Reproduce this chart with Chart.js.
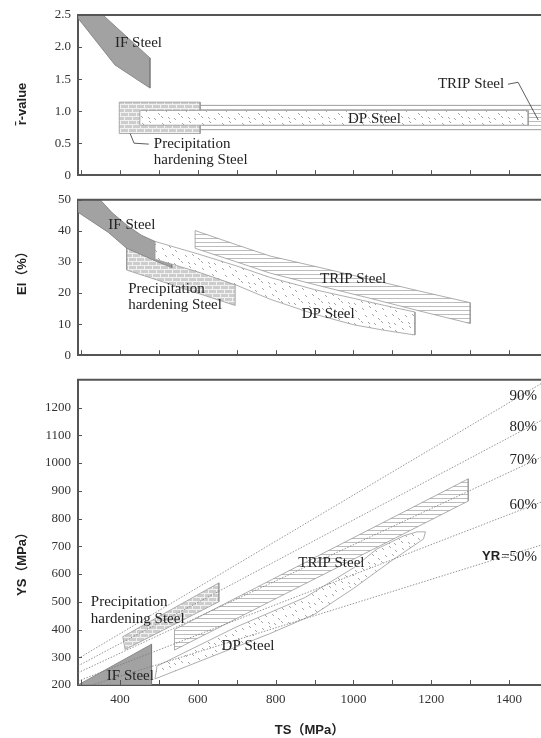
<!DOCTYPE html>
<html>
<head>
<meta charset="utf-8">
<script src="https://cdn.jsdelivr.net/npm/chart.js@4.4.0/dist/chart.umd.min.js"></script>
<style>
  html, body { margin: 0; padding: 0; background: #fff; overflow: hidden; }
  #wrap { position: relative; width: 541px; height: 738px; }
  #wrap canvas { position: absolute; left: 0; }
</style>
</head>
<body>
<div id="wrap">
  <canvas id="rChart" width="541" height="190" style="top:0"></canvas>
  <canvas id="elChart" width="541" height="185" style="top:185px"></canvas>
  <canvas id="ysChart" width="541" height="373" style="top:365px"></canvas>
</div>
<script>
// shared TS axis
const tsMin = 292, tsMax = 1482;
const tsTicks = [300, 400, 500, 600, 700, 800, 900, 1000, 1100, 1200, 1300, 1400];

// r-value vs TS  [TS, r]
const rTicks = [0, 0.5, 1, 1.5, 2, 2.5];
const rIF = [[292, 2.5], [356, 2.5], [477, 1.83], [477, 1.36], [387, 1.72], [292, 2.45]];
const rPH = [[398, 1.14], [606, 1.14], [606, 0.65], [398, 0.65]];
const rTRIP = [[578, 1.09], [1500, 1.09], [1500, 0.71], [578, 0.71]];
const rDP = [[451, 1.01], [1449, 1.01], [1449, 0.78], [451, 0.78]];
const rLeadPH = [[426, 0.65], [436, 0.5], [474, 0.485]];
const rLeadTRIP = [[1397, 1.42], [1423, 1.45], [1475, 0.86]];
const rNotes = [
  ['IF Steel', 387, 2.06],
  ['Precipitation', 487, 0.485],
  ['hardening Steel', 487, 0.24],
  ['DP Steel', 986, 0.88],
  ['TRIP Steel', 1217, 1.42]
];

// elongation vs TS  [TS, El %]
const elTicks = [0, 10, 20, 30, 40, 50];
const elIF = [[292, 50], [349, 50], [380, 45.8], [420, 41.6], [455, 38.6], [490, 36.6], [533, 33],
  [533, 28.2], [490, 30.4], [417, 34.4], [370, 39.5], [292, 46]];
const elPH = [[417, 35.2], [417, 27.4], [696, 16], [696, 22.6], [600, 27.2], [533, 29.6], [490, 31.5]];
const elTRIP = [[593, 40.1], [700, 35.5], [786, 31.9], [914, 28.2], [1043, 24.4], [1171, 20.6], [1300, 16.9],
  [1300, 10.2], [1171, 14.2], [1043, 18.3], [914, 22.3], [786, 26.4], [700, 30], [593, 34.4]];
const elDP = [[490, 36.6], [600, 32.6], [700, 28.7], [786, 25], [900, 21.1], [1000, 18.3], [1080, 16], [1158, 13.9],
  [1158, 6.5], [1080, 8], [1000, 9.8], [900, 13.2], [786, 18], [700, 22.5], [600, 26.8], [490, 30.9]];
const elNotes = [
  ['IF Steel', 370, 42],
  ['Precipitation', 421, 21.4],
  ['hardening Steel', 421, 16.2],
  ['TRIP Steel', 914, 24.4],
  ['DP Steel', 867, 13.3]
];

// yield strength vs TS  [TS, YS MPa]
const ysTicks = [200, 300, 400, 500, 600, 700, 800, 900, 1000, 1100, 1200];
const ysIF = [[292, 200], [481, 347], [481, 200]];
const ysPH = [[407, 374], [654, 568], [654, 500], [413, 328]];
const ysTRIP = [[540, 400], [1295, 943], [1295, 863], [540, 326]];
const ysDP = [[490, 222], [495, 268], [700, 410], [875, 515], [1000, 622], [1060, 690], [1130, 738], [1163, 752],
  [1185, 752], [1180, 726], [1100, 650], [1000, 548], [900, 455], [785, 385], [600, 283]];
const yr90 = [[292, 295], [1482, 1286]];
const yr80 = [[292, 269], [1482, 1153]];
const yr70 = [[292, 244], [1482, 1020]];
const yr60 = [[292, 214], [1482, 859]];
const yr50 = [[328, 200], [1482, 704]];
const ysNotes = [
  ['Precipitation', 325, 500],
  ['hardening Steel', 325, 437],
  ['IF Steel', 366, 232],
  ['DP Steel', 661, 340],
  ['TRIP Steel', 858, 638],
  ['90%', 1472, 1240, 'right'],
  ['80%', 1472, 1129, 'right'],
  ['70%', 1472, 1012, 'right'],
  ['60%', 1472, 848, 'right'],
  ['YR=50%', 1472, 662, 'right']
];

const serif = '"Liberation Serif", "DejaVu Serif", serif';
const sans = '"Liberation Sans", "Noto Sans CJK SC", sans-serif';

function makePattern(w, h, paint) {
  const c = document.createElement('canvas');
  c.width = w; c.height = h;
  const g = c.getContext('2d');
  paint(g);
  return g.createPattern(c, 'repeat');
}

const brick = makePattern(8, 8, g => {
  g.fillStyle = '#cdcdcd'; g.fillRect(0, 0, 8, 8);
  g.fillStyle = '#f2f2f2';
  g.fillRect(0, 0, 8, 1); g.fillRect(0, 4, 8, 1);
  g.fillRect(0, 0, 1, 4); g.fillRect(4, 4, 1, 4);
});
const hatch = makePattern(4, 4, g => {
  g.fillStyle = '#fff'; g.fillRect(0, 0, 4, 4);
  g.fillStyle = '#bdbdbd'; g.fillRect(0, 1, 4, 1);
});
// sparse grey flecks for the dual-phase bands
const speckle = makePattern(20, 20, g => {
  g.fillStyle = '#fff'; g.fillRect(0, 0, 20, 20);
  g.fillStyle = '#a5a5a5';
  [[2, 3], [9, 1], [15, 5], [5, 10], [12, 9], [18, 13], [1, 16], [8, 17], [14, 18]]
    .forEach(([a, b]) => { g.fillRect(a, b, 1, 1); g.fillRect(a + 1, b + 1, 1, 1); });
});

const pts = arr => arr.map(([x, y]) => ({ x, y }));
const closed = arr => pts(arr.concat([arr[0]]));

function area(arr, fill, edge) {
  return { data: closed(arr), fill: 'shape', backgroundColor: fill, borderColor: edge || '#999', borderWidth: 0.8 };
}
function leader(arr) {
  return { data: pts(arr), fill: false, borderColor: '#333', borderWidth: 0.8 };
}
function yrLine(arr) {
  return { data: pts(arr), fill: false, borderColor: '#7a7a7a', borderWidth: 0.8, borderDash: [1.5, 1.5] };
}

const panelDeco = {
  id: 'panelDeco',
  afterDraw(chart, args, opts) {
    const { ctx, chartArea: a, scales: { x, y } } = chart;
    ctx.save();
    // top frame
    ctx.strokeStyle = '#555';
    ctx.lineWidth = 2;
    ctx.beginPath();
    ctx.moveTo(a.left - 1, a.top);
    ctx.lineTo(a.right, a.top);
    ctx.stroke();
    // short ticks pointing into the plot
    ctx.lineWidth = 1;
    ctx.beginPath();
    x.ticks.forEach(t => {
      const px = Math.round(x.getPixelForValue(t.value)) + 0.5;
      ctx.moveTo(px, a.bottom);
      ctx.lineTo(px, a.bottom - 5);
    });
    y.ticks.forEach(t => {
      const py = Math.round(y.getPixelForValue(t.value)) + 0.5;
      ctx.moveTo(a.left, py);
      ctx.lineTo(a.left + 4, py);
    });
    ctx.stroke();
    // region names
    ctx.fillStyle = '#222';
    ctx.textBaseline = 'middle';
    opts.notes.forEach(([txt, tx, ty, align]) => {
      const px = x.getPixelForValue(tx), py = y.getPixelForValue(ty);
      ctx.textAlign = align || 'left';
      if (txt.startsWith('YR')) {
        ctx.font = '15px ' + serif;
        const rest = txt.slice(2);
        ctx.fillText(rest, px, py);
        const w = ctx.measureText(rest).width;
        ctx.font = 'bold 13px ' + sans;
        ctx.fillText('YR', px - w - 1, py);
      } else {
        ctx.font = '15px ' + serif;
        ctx.fillText(txt, px, py);
      }
    });
    // vertical axis title
    ctx.translate(opts.title.x, opts.title.y);
    ctx.rotate(-Math.PI / 2);
    ctx.font = 'bold 13px ' + sans;
    ctx.textAlign = 'center';
    ctx.fillStyle = '#222';
    ctx.fillText(opts.title.text, 0, 0);
    ctx.restore();
  }
};

function makeChart(id, cfg) {
  const datasets = cfg.datasets.map((d, i) => Object.assign({ order: -i, pointRadius: 0, showLine: true, tension: 0 }, d));
  return new Chart(document.getElementById(id), {
    type: 'scatter',
    data: { datasets },
    options: {
      responsive: false,
      animation: false,
      events: [],
      layout: { padding: { top: cfg.padTop, left: 0, right: 0, bottom: 0 } },
      plugins: {
        legend: { display: false },
        tooltip: { enabled: false },
        panelDeco: { notes: cfg.notes, title: cfg.title }
      },
      scales: {
        x: {
          type: 'linear',
          min: tsMin,
          max: tsMax,
          afterBuildTicks: s => { s.ticks = tsTicks.map(v => ({ value: v })); },
          afterFit: s => { s.height = cfg.xHeight; },
          grid: { display: false, drawTicks: false },
          border: { display: true, color: '#555', width: 2 },
          ticks: {
            display: !!cfg.xLabels,
            autoSkip: false,
            maxRotation: 0,
            padding: 7,
            color: '#333',
            font: { family: serif, size: 13 },
            callback: v => (v % 200 === 0 && v >= 400 ? String(v) : '')
          },
          title: {
            display: !!cfg.xLabels,
            text: 'TS（MPa）',
            color: '#222',
            font: { family: sans, size: 13, weight: 'bold' },
            padding: { top: 0, bottom: 0 }
          }
        },
        y: {
          type: 'linear',
          min: cfg.yMin,
          max: cfg.yMax,
          afterBuildTicks: s => { s.ticks = cfg.yTicks.map(v => ({ value: v })); },
          afterFit: s => { s.width = 78; },
          grid: { display: false, drawTicks: false },
          border: { display: true, color: '#555', width: 2 },
          ticks: {
            padding: 7,
            color: '#333',
            font: { family: serif, size: 13 },
            callback: cfg.yFmt
          }
        }
      }
    },
    plugins: [panelDeco]
  });
}

makeChart('rChart', {
  padTop: 15, xHeight: 10, yMin: 0, yMax: 2.5, yTicks: rTicks,
  yFmt: v => (v === 0 ? '0' : v.toFixed(1)),
  title: { text: 'r\u0304-value', x: 22, y: 104 },
  notes: rNotes,
  datasets: [
    area(rIF, '#a2a2a2', '#7c7c7c'),
    area(rTRIP, hatch),
    area(rPH, brick),
    area(rDP, speckle),
    leader(rLeadPH),
    leader(rLeadTRIP)
  ]
});

makeChart('elChart', {
  padTop: 10, xHeight: 9, yMin: 0, yMax: 50, yTicks: elTicks,
  yFmt: v => String(v),
  title: { text: 'El（%）', x: 22, y: 85 },
  notes: elNotes,
  datasets: [
    area(elPH, brick),
    area(elIF, '#a2a2a2', '#7c7c7c'),
    area(elTRIP, hatch),
    area(elDP, speckle)
  ]
});

makeChart('ysChart', {
  padTop: 14, xHeight: 53, xLabels: true, yMin: 200, yMax: 1300, yTicks: ysTicks,
  yFmt: v => String(v),
  title: { text: 'YS（MPa）', x: 22, y: 196 },
  notes: ysNotes,
  datasets: [
    area(ysIF, '#a2a2a2', '#7c7c7c'),
    area(ysPH, brick),
    area(ysTRIP, hatch),
    area(ysDP, speckle),
    yrLine(yr90),
    yrLine(yr80),
    yrLine(yr70),
    yrLine(yr60),
    yrLine(yr50)
  ]
});
</script>
</body>
</html>
